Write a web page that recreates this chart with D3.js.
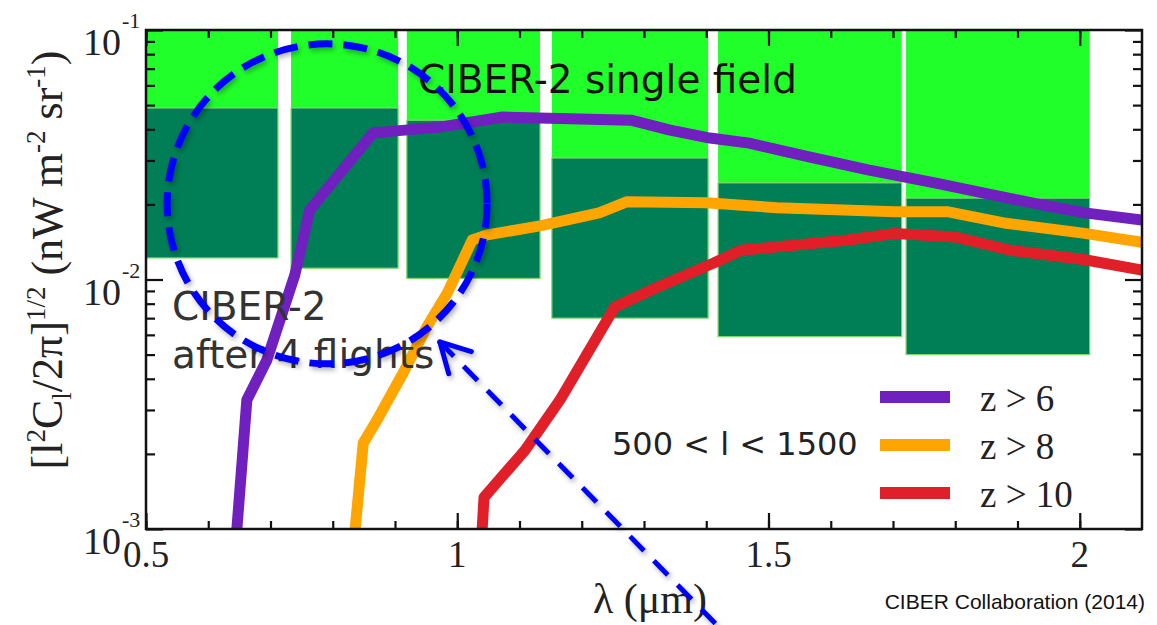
<!DOCTYPE html>
<html>
<head>
<meta charset="utf-8">
<script src="https://cdn.jsdelivr.net/npm/d3@7"></script>
<style>
  body { margin: 0; background: #fff; }
  svg { display: block; }
</style>
</head>
<body>
<script>
// CIBER-2 sensitivity bands (one column per spectral channel)
const bandStart = [0.500, 0.733, 0.919, 1.152, 1.419, 1.721];
const bandEnd = [0.712, 0.905, 1.133, 1.403, 1.714, 2.016];
const singleField = [0.0487, 0.0487, 0.0435, 0.0307, 0.0244, 0.0212];
const afterFlights = [0.0122, 0.0111, 0.0101, 0.0070, 0.0059, 0.0050];

// model curves, lambda (um) and fluctuation amplitude
const z6Lambda = [0.646, 0.662, 0.694, 0.739, 0.763, 0.865, 0.972, 1.073, 1.279, 1.342, 1.406, 1.469, 1.565, 1.660, 1.767, 1.862, 1.939, 2.008, 2.1];
const z6Value = [0.001, 0.00329, 0.00475, 0.01042, 0.0190, 0.0387, 0.0408, 0.0448, 0.0435, 0.0397, 0.0369, 0.0352, 0.0310, 0.0275, 0.0244, 0.0218, 0.0199, 0.0185, 0.0173];
const z8Lambda = [0.836, 0.849, 0.871, 0.913, 0.951, 0.984, 1.009, 1.024, 1.048, 1.133, 1.228, 1.273, 1.400, 1.514, 1.703, 1.787, 1.882, 2.008, 2.1];
const z8Value = [0.001, 0.00221, 0.00273, 0.00422, 0.00645, 0.00883, 0.01197, 0.0144, 0.0151, 0.0164, 0.0185, 0.0205, 0.0203, 0.0194, 0.0187, 0.0187, 0.0168, 0.0153, 0.0141];
const z10Lambda = [1.040, 1.043, 1.109, 1.165, 1.253, 1.322, 1.412, 1.456, 1.628, 1.703, 1.800, 1.888, 2.008, 2.1];
const z10Value = [0.001, 0.00134, 0.00207, 0.00329, 0.00776, 0.00933, 0.01164, 0.0131, 0.0144, 0.0153, 0.0148, 0.0131, 0.0120, 0.0109];

const seriesNames = ['z > 6', 'z > 8', 'z > 10'];
const seriesColors = ['#7020bf', '#ffa500', '#e01f28'];

const xMajor = [0.5, 1, 1.5, 2];
const xMinor = d3.range(5, 21).map(d => d / 10);
const yMajor = [1e-3, 1e-2, 1e-1];

// annotation (blue dashed circle and arrow) in data units
const circleCenter = [0.791, 0.0201];
const arrowTip = [0.972, 0.00562];
const arrowTail = [1.422, 0.00040];

const width = 1157;
const height = 625;

const x = d3.scaleLinear().domain([0.5, 2.1]).range([146, 1142]);
const y = d3.scaleLog().domain([1e-3, 1e-1]).range([529, 30]);
const yMinor = y.ticks().filter(d => !yMajor.some(m => Math.abs(m - d) < 1e-12));

const svg = d3.select('body')
    .append('svg')
    .attr('width', width)
    .attr('height', height);

const defs = svg.append('defs');
defs.append('clipPath')
    .attr('id', 'plot_clip')
    .append('rect')
    .attr('x', x(0.5))
    .attr('y', y(1e-1))
    .attr('width', x(2.1) - x(0.5))
    .attr('height', y(1e-3) - y(1e-1));
defs.append('filter')
    .attr('id', 'shadow')
    .attr('x', '-20%').attr('y', '-20%').attr('width', '140%').attr('height', '140%')
    .append('feDropShadow')
    .attr('dx', 2).attr('dy', 3)
    .attr('stdDeviation', 2.5)
    .attr('flood-color', '#000')
    .attr('flood-opacity', 0.3);

const plot = svg.append('g').attr('clip-path', 'url(#plot_clip)');

const bands = bandStart.map((d, i) => ({ start: d, end: bandEnd[i], single: singleField[i], flights: afterFlights[i] }));

plot.selectAll('rect.single')
    .data(bands)
    .enter()
    .append('rect')
    .attr('class', 'single')
    .attr('x', d => x(d.start))
    .attr('y', y(1e-1))
    .attr('width', d => x(d.end) - x(d.start))
    .attr('height', d => y(d.single) - y(1e-1))
    .attr('fill', '#20ff2a');

plot.selectAll('rect.flights')
    .data(bands)
    .enter()
    .append('rect')
    .attr('class', 'flights')
    .attr('x', d => x(d.start))
    .attr('y', d => y(d.single))
    .attr('width', d => x(d.end) - x(d.start))
    .attr('height', d => y(d.flights) - y(d.single))
    .attr('fill', '#007e56')
    .attr('stroke', '#7fd86a')
    .attr('stroke-width', 1.2);

// texts under the curves
svg.append('text')
    .attr('x', 418)
    .attr('y', 93)
    .attr('font-family', 'DejaVu Sans')
    .attr('font-size', 39)
    .attr('fill', '#111')
    .text('CIBER-2 single field');

const afterText = svg.append('text')
    .attr('font-family', 'DejaVu Sans')
    .attr('font-size', 39)
    .attr('fill', '#333');
afterText.append('tspan').attr('x', 172).attr('y', 320).text('CIBER-2');
afterText.append('tspan').attr('x', 172).attr('y', 368).text('after 4 flights');

svg.append('text')
    .attr('x', 612)
    .attr('y', 455)
    .attr('font-family', 'DejaVu Sans')
    .attr('font-size', 32)
    .attr('fill', '#222')
    .text('500 < l < 1500');

const line = d3.line()
    .x(d => x(d[0]))
    .y(d => y(d[1]));

const series = [
    d3.zip(z6Lambda, z6Value),
    d3.zip(z8Lambda, z8Value),
    d3.zip(z10Lambda, z10Value)
];

plot.selectAll('path.curve')
    .data(series)
    .enter()
    .append('path')
    .attr('class', 'curve')
    .attr('d', line)
    .attr('fill', 'none')
    .attr('stroke', (d, i) => seriesColors[i])
    .attr('stroke-width', 11)
    .attr('stroke-linejoin', 'round');

// ticks on all four sides, pointing inward
const axisG = svg.append('g').attr('stroke', '#111');
const drawTicks = (axis, transform) => {
    const g = axisG.append('g').attr('transform', transform).call(axis);
    g.select('.domain').remove();
    g.selectAll('line').attr('stroke', '#111').attr('stroke-width', 2.2);
    g.selectAll('text').remove();
};
drawTicks(d3.axisBottom(x).tickValues(xMinor).tickSize(-8), `translate(0,${y(1e-3)})`);
drawTicks(d3.axisBottom(x).tickValues(xMajor).tickSize(-16), `translate(0,${y(1e-3)})`);
drawTicks(d3.axisTop(x).tickValues(xMinor).tickSize(-8), `translate(0,${y(1e-1)})`);
drawTicks(d3.axisTop(x).tickValues(xMajor).tickSize(-16), `translate(0,${y(1e-1)})`);
drawTicks(d3.axisLeft(y).tickValues(yMinor).tickSize(-9), `translate(${x(0.5)},0)`);
drawTicks(d3.axisLeft(y).tickValues(yMajor).tickSize(-17), `translate(${x(0.5)},0)`);
drawTicks(d3.axisRight(y).tickValues(yMinor).tickSize(-9), `translate(${x(2.1)},0)`);
drawTicks(d3.axisRight(y).tickValues(yMajor).tickSize(-17), `translate(${x(2.1)},0)`);

svg.append('rect')
    .attr('x', x(0.5))
    .attr('y', y(1e-1))
    .attr('width', x(2.1) - x(0.5))
    .attr('height', y(1e-3) - y(1e-1))
    .attr('fill', 'none')
    .attr('stroke', '#111')
    .attr('stroke-width', 2.5);

// tick labels
svg.append('g')
    .selectAll('text')
    .data(xMajor)
    .enter()
    .append('text')
    .attr('x', d => x(d))
    .attr('y', 567)
    .attr('text-anchor', 'middle')
    .attr('font-family', 'Liberation Serif')
    .attr('font-size', 37)
    .attr('fill', '#222')
    .text(d => d);

const yLabels = svg.append('g')
    .selectAll('g')
    .data(yMajor)
    .enter()
    .append('g');
yLabels.append('text')
    .attr('x', 121)
    .attr('y', d => y(d) + 25)
    .attr('text-anchor', 'end')
    .attr('font-family', 'Liberation Serif')
    .attr('font-size', 38)
    .attr('fill', '#222')
    .text('10');
yLabels.append('text')
    .attr('x', 122)
    .attr('y', d => y(d) - 2)
    .attr('font-family', 'Liberation Serif')
    .attr('font-size', 22)
    .attr('fill', '#222')
    .text(d => '-' + Math.round(-Math.log10(d)));

// axis titles
svg.append('text')
    .attr('x', (x(0.5) + x(2.1)) / 2 + 6)
    .attr('y', 613)
    .attr('text-anchor', 'middle')
    .attr('font-family', 'Liberation Serif')
    .attr('font-size', 42)
    .attr('fill', '#222')
    .text('λ (μm)');

const yTitle = svg.append('text')
    .attr('transform', 'translate(62,260) rotate(-90)')
    .attr('text-anchor', 'middle')
    .attr('font-family', 'Liberation Serif')
    .attr('font-size', 44)
    .attr('fill', '#222');
const titleParts = [
    ['[l', 0, 44], ['2', -17, 27], ['C', 17, 44], ['l', 9, 27], ['/2π]', -9, 44],
    ['1/2', -17, 27], [' (nW m', 17, 44], ['-2', -17, 27], [' sr', 17, 44], ['-1', -17, 27], [')', 17, 44]
];
titleParts.forEach(p => {
    yTitle.append('tspan').attr('dy', p[1]).attr('font-size', p[2]).text(p[0]);
});

// legend
const legend = svg.append('g')
    .selectAll('g')
    .data(seriesNames)
    .enter()
    .append('g')
    .attr('transform', (d, i) => `translate(880,${397 + i * 48})`);
legend.append('line')
    .attr('x1', 0).attr('x2', 70)
    .attr('stroke', (d, i) => seriesColors[i])
    .attr('stroke-width', 12);
legend.append('text')
    .attr('x', 100)
    .attr('y', 14)
    .attr('font-family', 'Liberation Serif')
    .attr('font-size', 37)
    .attr('fill', '#222')
    .text(d => d);

// credit
svg.append('text')
    .attr('x', 1145)
    .attr('y', 609)
    .attr('text-anchor', 'end')
    .attr('font-family', 'Liberation Sans')
    .attr('font-size', 21)
    .attr('fill', '#111')
    .text('CIBER Collaboration (2014)');

// annotation
const note = svg.append('g')
    .attr('filter', 'url(#shadow)')
    .attr('fill', 'none')
    .attr('stroke', '#0000ff');
note.append('circle')
    .attr('cx', x(circleCenter[0]))
    .attr('cy', y(circleCenter[1]))
    .attr('r', 160)
    .attr('stroke-width', 7)
    .attr('stroke-dasharray', '24 11');

const tip = [x(arrowTip[0]), y(arrowTip[1])];
const tail = [x(arrowTail[0]), y(arrowTail[1])];
note.append('line')
    .attr('x1', tip[0]).attr('y1', tip[1])
    .attr('x2', tail[0]).attr('y2', tail[1])
    .attr('stroke-width', 5)
    .attr('stroke-dasharray', '20 14');
const angle = Math.atan2(tail[1] - tip[1], tail[0] - tip[0]);
[-0.5, 0.5].forEach(da => {
    note.append('line')
        .attr('x1', tip[0]).attr('y1', tip[1])
        .attr('x2', tip[0] + 33 * Math.cos(angle + da))
        .attr('y2', tip[1] + 33 * Math.sin(angle + da))
        .attr('stroke-width', 5)
        .attr('stroke-linecap', 'round');
});
</script>
</body>
</html>
